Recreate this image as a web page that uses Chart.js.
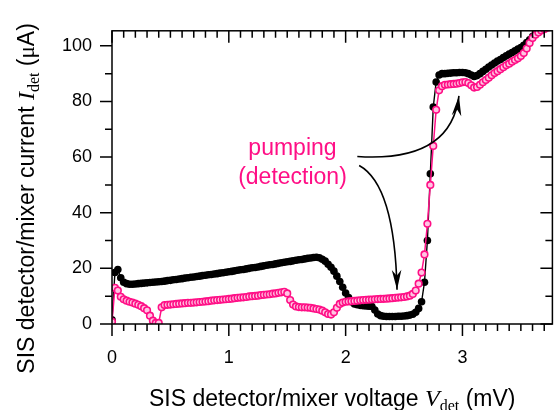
<!DOCTYPE html>
<html>
<head>
<meta charset="utf-8">
<script src="https://cdn.jsdelivr.net/npm/chart.js@4.4.1/dist/chart.umd.min.js"></script>
<style>
  html, body { margin: 0; padding: 0; background: #fff; }
  #chart { display: block; }
</style>
</head>
<body>
<canvas id="chart" width="558" height="410"></canvas>
<script>
// bias voltage (mV), one sample every 0.025 mV
const voltage = [
  0.000, 0.025, 0.050, 0.075, 0.100, 0.125, 0.150, 0.175, 0.200, 0.225,
  0.250, 0.275, 0.300, 0.325, 0.350, 0.375, 0.400, 0.425, 0.450, 0.475,
  0.500, 0.525, 0.550, 0.575, 0.600, 0.625, 0.650, 0.675, 0.700, 0.725,
  0.750, 0.775, 0.800, 0.825, 0.850, 0.875, 0.900, 0.925, 0.950, 0.975,
  1.000, 1.025, 1.050, 1.075, 1.100, 1.125, 1.150, 1.175, 1.200, 1.225,
  1.250, 1.275, 1.300, 1.325, 1.350, 1.375, 1.400, 1.425, 1.450, 1.475,
  1.500, 1.525, 1.550, 1.575, 1.600, 1.625, 1.650, 1.675, 1.700, 1.725,
  1.750, 1.775, 1.800, 1.825, 1.850, 1.875, 1.900, 1.925, 1.950, 1.975,
  2.000, 2.025, 2.050, 2.075, 2.100, 2.125, 2.150, 2.175, 2.200, 2.225,
  2.250, 2.275, 2.300, 2.325, 2.350, 2.375, 2.400, 2.425, 2.450, 2.475,
  2.500, 2.525, 2.550, 2.575, 2.600, 2.625, 2.650, 2.675, 2.700, 2.725,
  2.750, 2.775, 2.800, 2.825, 2.850, 2.875, 2.900, 2.925, 2.950, 2.975,
  3.000, 3.025, 3.050, 3.075, 3.100, 3.125, 3.150, 3.175, 3.200, 3.225,
  3.250, 3.275, 3.300, 3.325, 3.350, 3.375, 3.400, 3.425, 3.450, 3.475,
  3.500, 3.525, 3.550, 3.575, 3.600, 3.625, 3.650, 3.675, 3.700, 3.725,
  3.750, 3.775
];

// current without LO (black), µA
const unpumped = [
  1.5, 18.5, 19.6, 16.6, 15.0, 14.5, 14.3, 14.3, 14.4, 14.5,
  14.6, 14.7, 14.8, 14.9, 15.0, 15.1, 15.2, 15.3, 15.4, 15.6,
  15.7, 15.9, 16.0, 16.2, 16.3, 16.5, 16.6, 16.8, 16.9, 17.1,
  17.2, 17.4, 17.5, 17.7, 17.8, 18.0, 18.1, 18.3, 18.4, 18.6,
  18.8, 18.9, 19.1, 19.3, 19.5, 19.6, 19.8, 20.0, 20.2, 20.3,
  20.5, 20.7, 20.9, 21.1, 21.3, 21.4, 21.6, 21.8, 22.0, 22.2,
  22.4, 22.5, 22.7, 22.9, 23.1, 23.2, 23.4, 23.6, 23.7, 23.9,
  24.0, 23.8, 23.3, 22.6, 21.5, 20.4, 19.0, 17.2, 15.3, 13.2,
  11.1, 9.5, 8.0, 7.2, 6.9, 6.7, 6.6, 6.5, 6.4, 6.3,
  5.0, 3.6, 3.0, 2.8, 2.7, 2.7, 2.7, 2.7, 2.8, 2.8,
  2.9, 3.0, 3.2, 3.5, 4.2, 5.6, 8.0, 15.0, 30.0, 54.0,
  78.0, 87.0, 89.5, 90.0, 90.0, 90.1, 90.2, 90.3, 90.3, 90.4,
  90.4, 90.3, 90.0, 89.5, 89.0, 89.3, 90.0, 90.8, 91.6, 92.4,
  93.1, 93.8, 94.5, 95.1, 95.8, 96.4, 97.0, 97.6, 98.2, 98.8,
  99.4, 100.2, 101.2, 102.2, 103.3, 104.2, 105.0, 105.8, 106.5, 107.0,
  107.5, 108.0
];

// current with LO pumping (pink), µA
const pumped = [
  0.8, 13.0, 12.0, 9.8, 8.9, 8.4, 8.0, 7.7, 7.3, 6.9,
  6.4, 5.7, 4.9, 3.0, 1.2, 0.4, 0.4, 6.0, 6.8, 6.9,
  7.0, 7.1, 7.2, 7.3, 7.4, 7.5, 7.6, 7.6, 7.7, 7.8,
  7.9, 8.0, 8.1, 8.2, 8.4, 8.5, 8.6, 8.7, 8.8, 8.9,
  9.0, 9.1, 9.3, 9.4, 9.5, 9.6, 9.7, 9.9, 10.0, 10.1,
  10.2, 10.4, 10.5, 10.6, 10.7, 10.9, 11.0, 11.2, 11.4, 11.6,
  11.0, 8.6, 7.0, 6.3, 6.1, 6.0, 6.0, 5.9, 5.8, 5.6,
  5.4, 5.2, 4.8, 4.2, 3.6, 3.4, 4.2, 5.8, 7.2, 7.7,
  8.0, 8.1, 8.2, 8.3, 8.4, 8.5, 8.6, 8.7, 8.75, 8.8,
  8.9, 8.95, 9.0, 9.05, 9.1, 9.2, 9.3, 9.4, 9.5, 9.6,
  9.7, 9.9, 10.2, 10.8, 12.0, 14.5, 18.5, 25.0, 36.0, 50.0,
  64.0, 77.0, 84.0, 85.5, 86.0, 86.1, 86.2, 86.3, 86.4, 86.6,
  86.9, 87.0, 86.6, 85.8, 85.0, 85.2, 86.0, 86.9, 87.7, 88.5,
  89.4, 90.2, 90.9, 91.6, 92.3, 93.0, 93.6, 94.3, 94.9, 95.5,
  96.3, 97.4, 99.0, 101.0, 102.8, 104.0, 104.8, 105.5, 106.0, 106.5,
  107.0, 107.5
];

const xTicks = [0, 1, 2, 3];
const yTicks = [0, 20, 40, 60, 80, 100];

// annotation text and arrows, in data units (mV, µA)
const noteLines = ["pumping", "(detection)"];
const notePos = [[1.545, 63], [1.545, 52.6]];
const arrowPaths = [
  [[2.10, 60.2], [2.90, 58.0], [2.97, 82.0]],
  [[2.116, 57.0], [2.42, 50.0], [2.44, 12.3]]
];

const PINK = "#ff0f86";
const SANS = "Arial, 'Liberation Sans', sans-serif";
const SERIF = "'Times New Roman', 'Liberation Serif', serif";

function richText(ctx, parts, x, y, angle) {
  ctx.save();
  ctx.translate(x, y);
  ctx.rotate(angle);
  ctx.textAlign = "left";
  ctx.textBaseline = "alphabetic";
  ctx.fillStyle = "#000";
  let total = 0;
  parts.forEach(p => { ctx.font = p[1]; total += ctx.measureText(p[0]).width; });
  let cx = -total / 2;
  parts.forEach(p => {
    ctx.font = p[1];
    ctx.fillText(p[0], cx, p[2]);
    cx += ctx.measureText(p[0]).width;
  });
  ctx.restore();
}

function arrowHead(ctx, tx, ty, fx, fy) {
  const ang = Math.atan2(ty - fy, tx - fx);
  ctx.save();
  ctx.translate(tx, ty);
  ctx.rotate(ang);
  ctx.beginPath();
  ctx.moveTo(0, 0);
  ctx.lineTo(-20, -4.8);
  ctx.lineTo(-14, 0);
  ctx.lineTo(-20, 4.8);
  ctx.closePath();
  ctx.fill();
  ctx.restore();
}

const framePlugin = {
  id: "frame",
  afterDraw(chart) {
    const { ctx, chartArea: a, scales: { x, y } } = chart;
    ctx.save();
    ctx.strokeStyle = "#000";
    ctx.lineWidth = 1.5;
    ctx.strokeRect(a.left, a.top, a.right - a.left, a.bottom - a.top);

    // ticks: majors long, minors short
    ctx.beginPath();
    for (let i = 0; i <= 37; i++) {
      const px = x.getPixelForValue(i / 10);
      const len = xTicks.includes(i / 10) ? 12 : 7;
      ctx.moveTo(px, a.bottom); ctx.lineTo(px, a.bottom + len);
      ctx.moveTo(px, a.top); ctx.lineTo(px, a.top + len);
    }
    for (let i = 0; i <= 10; i++) {
      const py = y.getPixelForValue(i * 10);
      const len = yTicks.includes(i * 10) ? 12 : 7;
      ctx.moveTo(a.left, py); ctx.lineTo(a.left - len, py);
      ctx.moveTo(a.right, py); ctx.lineTo(a.right - len, py);
    }
    ctx.stroke();

    // arrows
    ctx.fillStyle = "#000";
    ctx.lineWidth = 1.6;
    arrowPaths.forEach(p => {
      const s = [x.getPixelForValue(p[0][0]), y.getPixelForValue(p[0][1])];
      const c = [x.getPixelForValue(p[1][0]), y.getPixelForValue(p[1][1])];
      const e = [x.getPixelForValue(p[2][0]), y.getPixelForValue(p[2][1])];
      ctx.beginPath();
      ctx.moveTo(s[0], s[1]);
      ctx.quadraticCurveTo(c[0], c[1], e[0], e[1]);
      ctx.stroke();
      arrowHead(ctx, e[0], e[1], c[0], c[1]);
    });

    // note text
    ctx.fillStyle = PINK;
    ctx.font = "23px " + SANS;
    ctx.textAlign = "center";
    ctx.textBaseline = "middle";
    noteLines.forEach((t, i) => {
      ctx.fillText(t, x.getPixelForValue(notePos[i][0]), y.getPixelForValue(notePos[i][1]));
    });

    // axis titles
    const big = "23px " + SANS;
    richText(ctx, [
      ["SIS detector/mixer voltage ", big, 0],
      ["V", "italic 24px " + SERIF, 0],
      ["det", "16px " + SERIF, 5],
      [" (mV)", big, 0]
    ], (a.left + a.right) / 2, 406, 0);
    richText(ctx, [
      ["SIS detector/mixer current ", big, 0],
      ["I", "italic 24px " + SERIF, 0],
      ["det", "16px " + SERIF, 5],
      [" (", big, 0],
      ["\u03bc", "23px " + SERIF, 0],
      ["A)", big, 0]
    ], 34, (a.top + a.bottom) / 2 + 21, -Math.PI / 2);
    ctx.restore();
  }
};

const tickFont = { family: SANS, size: 18 };

new Chart(document.getElementById("chart"), {
  type: "line",
  data: {
    datasets: [
      {
        label: "unpumped",
        data: voltage.map((v, i) => ({ x: v, y: unpumped[i] })),
        borderColor: "#000",
        borderWidth: 1.4,
        pointRadius: 3.8,
        pointBackgroundColor: "#000",
        pointBorderColor: "#000",
        pointBorderWidth: 0,
        tension: 0,
        order: 2
      },
      {
        label: "pumped",
        data: voltage.map((v, i) => ({ x: v, y: pumped[i] })),
        borderColor: PINK,
        borderWidth: 1.5,
        pointRadius: 3.3,
        pointBackgroundColor: "#ffc4e2",
        pointBorderColor: PINK,
        pointBorderWidth: 1.6,
        tension: 0,
        order: 1
      }
    ]
  },
  options: {
    responsive: false,
    animation: false,
    devicePixelRatio: 1,
    layout: { padding: { top: 29, right: 4, left: 0, bottom: 0 } },
    plugins: { legend: { display: false }, tooltip: { enabled: false } },
    scales: {
      x: {
        type: "linear",
        min: 0,
        max: 3.77,
        afterFit(s) { s.height = 86; },
        grid: { display: false, drawTicks: false, tickLength: 0 },
        border: { display: false },
        ticks: {
          stepSize: 1,
          includeBounds: false,
          padding: 23,
          maxRotation: 0,
          color: "#000",
          font: tickFont,
          callback: v => xTicks.includes(v) ? String(v) : ""
        }
      },
      y: {
        type: "linear",
        min: 0,
        max: 105.4,
        afterFit(s) { s.width = 112; },
        grid: { display: false, drawTicks: false, tickLength: 0 },
        border: { display: false },
        ticks: {
          stepSize: 20,
          includeBounds: false,
          padding: 20,
          color: "#000",
          font: tickFont,
          callback: v => yTicks.includes(v) ? String(v) : ""
        }
      }
    }
  },
  plugins: [framePlugin]
});
</script>
</body>
</html>
